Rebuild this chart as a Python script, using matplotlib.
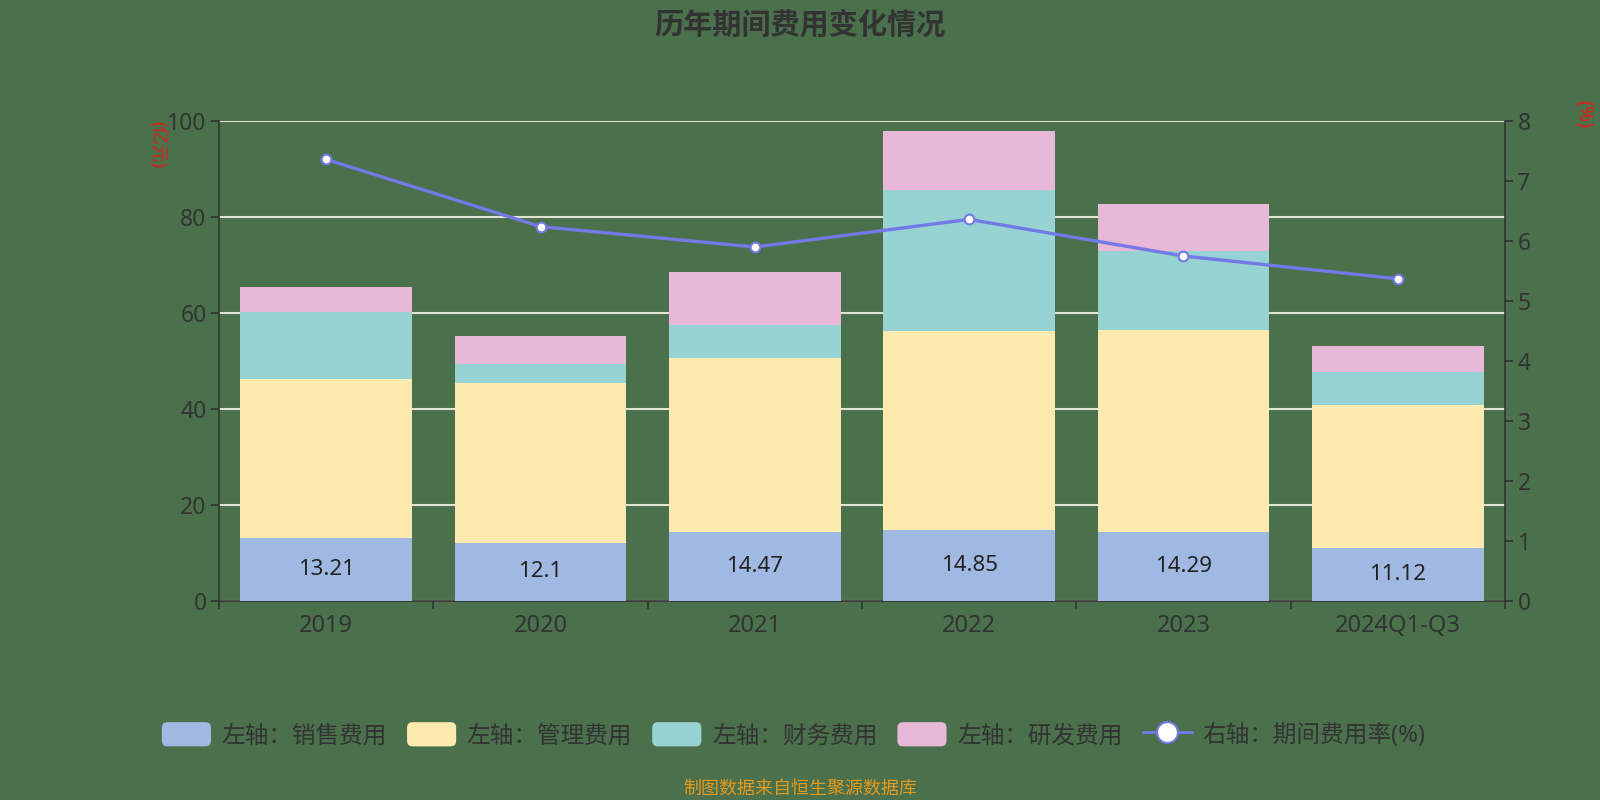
import numpy as np
import matplotlib
matplotlib.use("Agg")
import matplotlib.pyplot as plt
from matplotlib.patches import FancyBboxPatch
from matplotlib.legend_handler import HandlerPatch
from matplotlib.lines import Line2D

plt.rcParams['font.family'] = ['Noto Sans', 'Noto Sans CJK SC', 'DejaVu Sans']

years = ['2019', '2020', '2021', '2022', '2023', '2024Q1-Q3']
sales = [13.21, 12.1, 14.47, 14.85, 14.29, 11.12]
admin = [33.1, 33.4, 36.1, 41.45, 42.2, 29.7]
finance = [13.9, 3.8, 7.0, 29.3, 16.5, 6.8]
rnd = [5.3, 5.9, 10.9, 12.3, 9.7, 5.5]
rate = [7.36, 6.24, 5.90, 6.36, 5.75, 5.37]

series_names = ['左轴：销售费用', '左轴：管理费用', '左轴：财务费用', '左轴：研发费用']
line_name = '右轴：期间费用率(%)'

bg = '#4a704c'
colors = ['#9fb9e3', '#fbe9ad', '#96d3d2', '#e7b8d8']
line_color = '#7479e8'
text_color = '#333333'


class RoundPatchHandler(HandlerPatch):
    def create_artists(self, legend, orig_handle, xdescent, ydescent,
                       width, height, fontsize, trans):
        p = FancyBboxPatch((-xdescent, -ydescent), width, height,
                           boxstyle="round,pad=0,rounding_size=4",
                           facecolor=orig_handle.get_facecolor(),
                           edgecolor='none', transform=trans)
        return [p]


fig = plt.figure(figsize=(16, 8), dpi=100, facecolor=bg)
ax = fig.add_axes([0.1369, 0.24875, 0.8037, 0.6])
ax.set_facecolor(bg)

x = np.arange(len(years))
bottom = np.zeros(len(years))
bars = []
for vals, c, name in zip([sales, admin, finance, rnd], colors, series_names):
    b = ax.bar(x, vals, width=0.8, bottom=bottom, color=c, label=name, zorder=3)
    bars.append(b)
    bottom = bottom + np.array(vals)

for xi, v in zip(x, sales):
    ax.text(xi, v / 2, f'{v:g}', ha='center', va='center', fontsize=16,
            color='#222222', zorder=5)

ax.set_xlim(-0.5, len(years) - 0.5)
ax.set_ylim(0, 100)
ax.set_yticks(np.arange(0, 101, 20))
ax.grid(axis='y', color='#dfe3cf', linewidth=1.5, zorder=0)
ax.set_axisbelow(True)
ax.set_xticks(x)
ax.set_xticklabels(years, fontweight='medium')
ax.set_xticks(np.arange(-0.5, len(years), 1), minor=True)
ax.tick_params(axis='x', which='major', length=0, pad=9, labelsize=17, labelcolor=text_color)
ax.tick_params(axis='x', which='minor', length=6, width=1.2, color=text_color)
ax.tick_params(axis='y', length=6, width=1.2, color=text_color, labelsize=16.5,
               labelcolor=text_color, pad=3)
for lab in ax.get_yticklabels():
    lab.set_fontweight('medium')
for s in ['top', 'right']:
    ax.spines[s].set_visible(False)
for s in ['left', 'bottom']:
    ax.spines[s].set_color(text_color)
    ax.spines[s].set_linewidth(1.2)

ax2 = ax.twinx()
ax2.set_ylim(0, 8)
ax2.set_yticks(np.arange(0, 9, 1))
ax2.plot(x, rate, color=line_color, linewidth=2.4, marker='o', markersize=7,
         markerfacecolor='white', markeredgecolor=line_color, markeredgewidth=1.5,
         zorder=6)
ax2.tick_params(axis='y', length=6, width=1.2, color=text_color, labelsize=16.5,
                labelcolor=text_color, pad=3)
for lab in ax2.get_yticklabels():
    lab.set_fontweight('medium')
for s in ['top', 'left', 'bottom']:
    ax2.spines[s].set_visible(False)
ax2.spines['right'].set_color(text_color)
ax2.spines['right'].set_linewidth(1.2)

fig.text(0.098, 0.819, '(亿元)', rotation=-90, ha='center', va='center',
         fontsize=13, color='#e0201a')
fig.text(0.99, 0.857, '(%)', rotation=-90, ha='center', va='center',
         fontsize=14, color='#e0201a')

fig.text(0.5, 0.967, '历年期间费用变化情况', ha='center', va='center',
         fontsize=21, fontweight='bold', color=text_color)

handles = [b.patches[0] for b in bars]
line_handle = Line2D([0], [0], color=line_color, linewidth=2, marker='o',
                     markersize=15, markerfacecolor='white',
                     markeredgecolor=line_color, markeredgewidth=1.5)
handles.append(line_handle)
labels = series_names + [line_name]
leg = fig.legend(handles, labels, loc='center', bbox_to_anchor=(0.496, 0.081), ncol=5,
                 frameon=False, fontsize=17, labelcolor=text_color, handlelength=2.08,
                 handleheight=1.2, handletextpad=0.45, columnspacing=0.85,
                 handler_map={h: RoundPatchHandler() for h in handles[:4]})
for t in leg.get_texts():
    t.set_fontweight('medium')

fig.text(0.5, 0.014, '制图数据来自恒生聚源数据库', ha='center', va='center',
         fontsize=13, color='#e59a1c')

fig.savefig('out.png', dpi=100, facecolor=bg)
